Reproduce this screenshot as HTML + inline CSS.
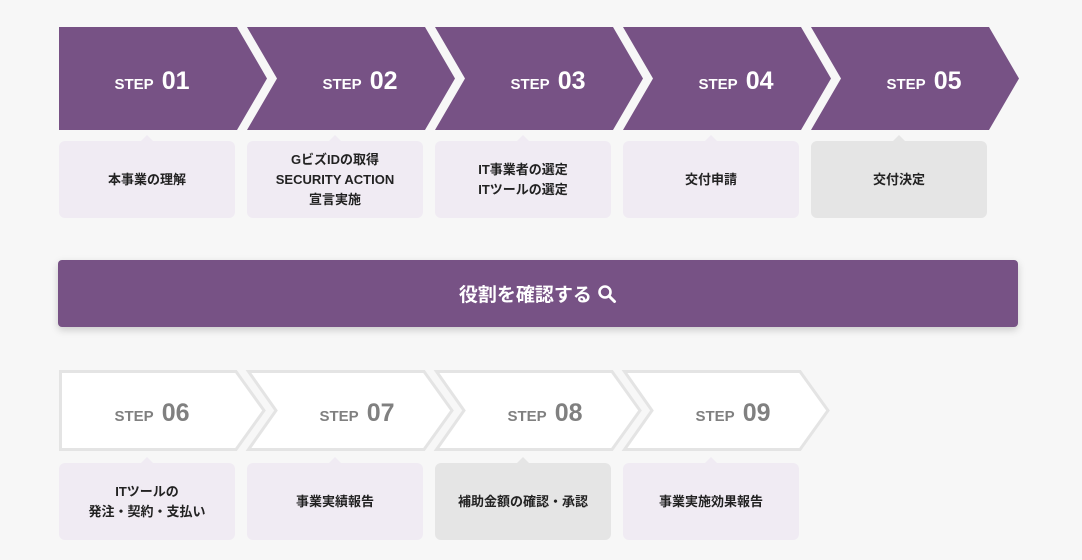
<!DOCTYPE html>
<html><head><meta charset="utf-8"><style>
html,body{margin:0;padding:0;background:#f7f7f7;width:1082px;height:560px;overflow:hidden;font-family:"Liberation Sans","Noto Sans CJK JP",sans-serif}
.box{position:absolute;width:176px;border-radius:6px;background:#f0ebf3;display:flex;align-items:center;justify-content:center;text-align:center;font-size:13px;font-weight:bold;color:#222;line-height:20px}
.box:before{content:"";position:absolute;left:82px;top:-6px;border-left:6px solid transparent;border-right:6px solid transparent;border-bottom:6px solid #f0ebf3}
.box.g{background:#e5e5e5}.box.g:before{border-bottom-color:#e5e5e5}
.btn{position:absolute;left:58px;top:260px;width:960px;height:67px;background:#775285;border-radius:4px;box-shadow:0 3px 8px rgba(0,0,0,.18);color:#fff;font-weight:bold;font-size:19px;display:flex;align-items:center;justify-content:center}
</style></head><body>
<svg width="1082" height="560" style="position:absolute;left:0;top:0">
<g fill="#775285">
<polygon points="59,27 237,27 267,78.5 237,130 59,130"/>
<polygon points="247,27 425,27 455,78.5 425,130 247,130 277,78.5"/>
<polygon points="435,27 613,27 643,78.5 613,130 435,130 465,78.5"/>
<polygon points="623,27 801,27 831,78.5 801,130 623,130 653,78.5"/>
<polygon points="811,27 989,27 1019,78.5 989,130 811,130 841,78.5"/>
</g>
<g fill="#fff" stroke="#e4e4e4" stroke-width="3">
<polygon points="60.5,371.5 236,371.5 264,410.5 236,449.5 60.5,449.5"/>
<polygon points="248.5,371.5 424,371.5 452,410.5 424,449.5 248.5,449.5 276,410.5"/>
<polygon points="436.5,371.5 612,371.5 640,410.5 612,449.5 436.5,449.5 464,410.5"/>
<polygon points="624.5,371.5 800,371.5 828,410.5 800,449.5 624.5,449.5 652,410.5"/>
</g>
<g font-family="Liberation Sans, sans-serif" font-weight="bold" text-anchor="middle">
<g fill="#fff">
<text x="152" y="89"><tspan font-size="15">STEP</tspan><tspan font-size="25" dx="8">01</tspan></text>
<text x="360" y="89"><tspan font-size="15">STEP</tspan><tspan font-size="25" dx="8">02</tspan></text>
<text x="548" y="89"><tspan font-size="15">STEP</tspan><tspan font-size="25" dx="8">03</tspan></text>
<text x="736" y="89"><tspan font-size="15">STEP</tspan><tspan font-size="25" dx="8">04</tspan></text>
<text x="924" y="89"><tspan font-size="15">STEP</tspan><tspan font-size="25" dx="8">05</tspan></text>
</g>
<g fill="#808080">
<text x="152" y="421"><tspan font-size="15">STEP</tspan><tspan font-size="25" dx="8">06</tspan></text>
<text x="357" y="421"><tspan font-size="15">STEP</tspan><tspan font-size="25" dx="8">07</tspan></text>
<text x="545" y="421"><tspan font-size="15">STEP</tspan><tspan font-size="25" dx="8">08</tspan></text>
<text x="733" y="421"><tspan font-size="15">STEP</tspan><tspan font-size="25" dx="8">09</tspan></text>
</g>
</g>
</svg>
<div class="box" style="left:59px;top:141px;height:77px">本事業の理解</div>
<div class="box" style="left:247px;top:141px;height:77px">GビズIDの取得<br>SECURITY ACTION<br>宣言実施</div>
<div class="box" style="left:435px;top:141px;height:77px">IT事業者の選定<br>ITツールの選定</div>
<div class="box" style="left:623px;top:141px;height:77px">交付申請</div>
<div class="box g" style="left:811px;top:141px;height:77px">交付決定</div>
<div class="btn">役割を確認する&nbsp;<svg width="20" height="20" viewBox="0 0 20 20"><circle cx="8" cy="8" r="5.5" fill="none" stroke="#fff" stroke-width="2.6"/><line x1="12" y1="12" x2="17.5" y2="17.5" stroke="#fff" stroke-width="3" stroke-linecap="round"/></svg></div>
<div class="box" style="left:59px;top:463px;height:77px">ITツールの<br>発注・契約・支払い</div>
<div class="box" style="left:247px;top:463px;height:77px">事業実績報告</div>
<div class="box g" style="left:435px;top:463px;height:77px">補助金額の確認・承認</div>
<div class="box" style="left:623px;top:463px;height:77px">事業実施効果報告</div>
</body></html>
